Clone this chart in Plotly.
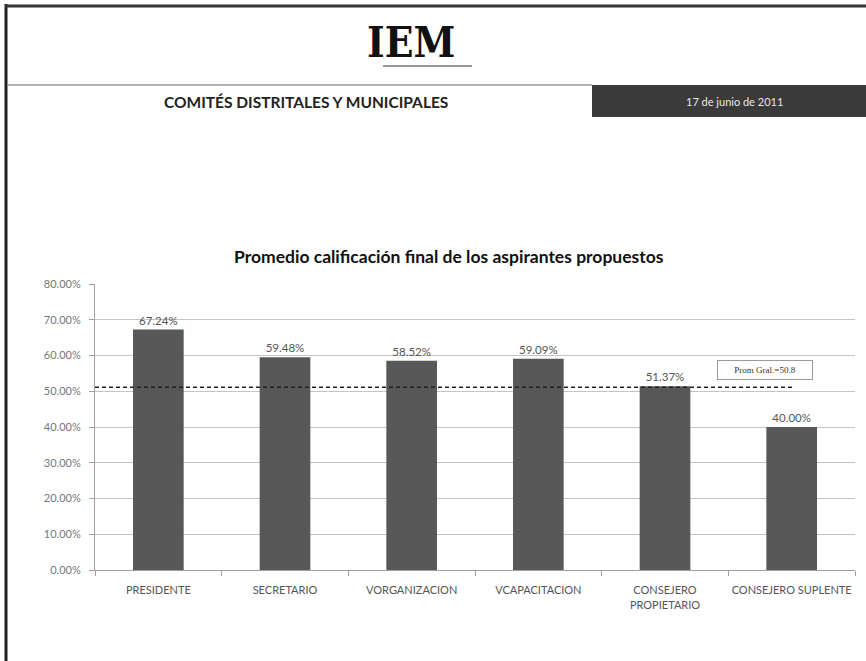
import plotly.graph_objects as go

categories = ["PRESIDENTE", "SECRETARIO", "VORGANIZACION", "VCAPACITACION",
              "CONSEJERO<br>PROPIETARIO", "CONSEJERO SUPLENTE"]
values = [67.24, 59.48, 58.52, 59.09, 51.37, 40.00]
value_labels = ["67.24%", "59.48%", "58.52%", "59.09%", "51.37%", "40.00%"]
average_value = 51.1
average_label = "Prom Gral.=50.8"
tick_values = [0, 10, 20, 30, 40, 50, 60, 70, 80]
tick_labels = ["0.00%", "10.00%", "20.00%", "30.00%", "40.00%", "50.00%",
               "60.00%", "70.00%", "80.00%"]
chart_title = "Promedio calificación final de los aspirantes propuestos"
header_title = "COMITÉS DISTRITALES Y MUNICIPALES"
header_date = "17 de junio de 2011"
logo_text = "IEM"

FONT = "Lato, 'Open Sans', sans-serif"

# plot area in pixels: x 95..855, y 284..570
L, R, T, B = 95, 855, 284, 570
W, H = R - L, B - T


def px(pix):
    return (pix - L) / W


def py(pix):
    return (B - pix) / H


fig = go.Figure()
fig.add_trace(go.Bar(
    x=categories, y=values,
    marker=dict(color="#585858", line=dict(width=0)),
    text=value_labels, textposition="outside",
    textfont=dict(size=11.5, color="#555555", family=FONT),
    cliponaxis=False, hoverinfo="skip",
))

fig.update_layout(
    width=866, height=661,
    margin=dict(l=L, r=866 - R, t=T, b=661 - B, pad=0, autoexpand=False),
    paper_bgcolor="white", plot_bgcolor="white",
    showlegend=False, bargap=0.6,
    font=dict(family=FONT, color="#555555"),
)
fig.update_yaxes(
    range=[0, 80], tickvals=tick_values, ticktext=tick_labels,
    showgrid=True, gridcolor="#c4c4c4", gridwidth=1,
    showline=True, linecolor="#a0a0a0", linewidth=1,
    ticks="outside", ticklen=5, tickcolor="#a0a0a0",
    ticklabelstandoff=6, automargin=False,
    tickfont=dict(size=11, color="#777777", family=FONT),
    zeroline=False, fixedrange=True,
)
fig.update_xaxes(
    showline=True, linecolor="#a0a0a0", linewidth=1,
    ticks="outside", ticklen=5, tickcolor="#a0a0a0", tickson="boundaries",
    tickangle=0, automargin=False, ticklabelstandoff=10,
    tickfont=dict(size=11, color="#555555", family=FONT),
    fixedrange=True,
)

# average dashed line
fig.add_shape(type="line", xref="x domain", yref="y",
              x0=0, x1=px(795), y0=average_value, y1=average_value,
              line=dict(color="#222222", width=1.5, dash="4px,3px"))
fig.add_annotation(xref="paper", yref="paper", x=px(765), y=py(370),
                   text=average_label, showarrow=False,
                   font=dict(size=9, color="#333333", family="'Liberation Serif', serif"),
                   bordercolor="#9a9a9a", borderwidth=1, borderpad=4,
                   width=86, bgcolor="white", xanchor="center", yanchor="middle")

# page frame
fig.add_shape(type="line", xref="paper", yref="paper", layer="above",
              x0=px(6), x1=px(6), y0=py(661), y1=py(4),
              line=dict(color="#222222", width=3))
fig.add_shape(type="line", xref="paper", yref="paper", layer="above",
              x0=px(5), x1=px(866), y0=py(6), y1=py(6),
              line=dict(color="#333333", width=3))
# header rule and dark band
fig.add_shape(type="line", xref="paper", yref="paper",
              x0=px(8), x1=px(592), y0=py(85), y1=py(85),
              line=dict(color="#9a9a9a", width=1.5))
fig.add_shape(type="rect", xref="paper", yref="paper",
              x0=px(592), x1=px(866), y0=py(117), y1=py(85),
              fillcolor="#3a3a3a", line=dict(width=0))
# thin rule under logo
fig.add_shape(type="line", xref="paper", yref="paper",
              x0=px(383), x1=px(472), y0=py(66), y1=py(66),
              line=dict(color="#777777", width=1.5))

fig.add_annotation(xref="paper", yref="paper", x=px(306), y=py(102),
                   text=f"<b>{header_title}</b>", showarrow=False,
                   font=dict(size=15.5, color="#222222", family=FONT),
                   xanchor="center", yanchor="middle")
fig.add_annotation(xref="paper", yref="paper", x=px(734), y=py(101),
                   text=header_date, showarrow=False,
                   font=dict(size=11, color="#e8e8e8", family=FONT),
                   xanchor="center", yanchor="middle")
fig.add_annotation(xref="paper", yref="paper", x=px(411), y=py(43),
                   text=f"<b>{logo_text}</b>", showarrow=False,
                   font=dict(size=42, color="#111111",
                             family="'DejaVu Serif Condensed', 'DejaVu Sans Condensed', serif"),
                   xanchor="center", yanchor="middle")
fig.add_annotation(xref="paper", yref="paper", x=px(449), y=py(256),
                   text=f"<b>{chart_title}</b>", showarrow=False,
                   font=dict(size=17.5, color="#111111", family=FONT),
                   xanchor="center", yanchor="middle")

fig.write_html("out.html", config={"displayModeBar": False},
               post_script="document.body.style.margin='0';")
